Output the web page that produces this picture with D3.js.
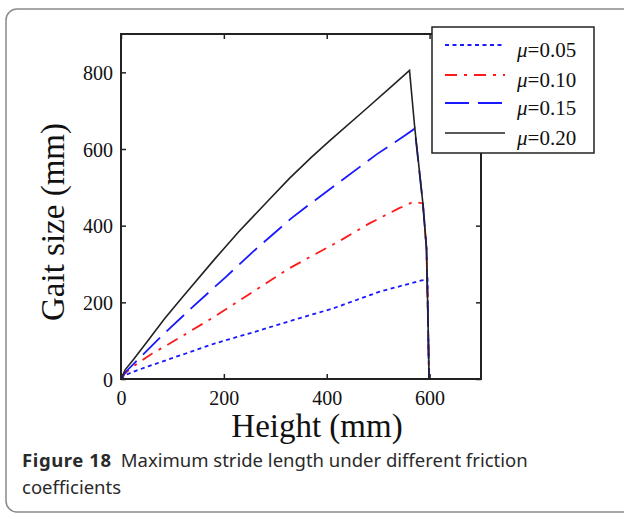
<!DOCTYPE html>
<html>
<head>
<meta charset="utf-8">
<script src="https://cdn.jsdelivr.net/npm/d3@7"></script>
<style>
  body { margin: 0; background: #fff; }
  svg { display: block; }
</style>
</head>
<body>
<svg width="624" height="514"></svg>
<script>
// series values: [height mm, gait size mm]
var mu005 = [[0,0],[8,10],[30,22],[53,33],[118,63],[183,93],[260,123],[333,153],[412,184],[503,228],[587,258],[596,262],[597,150],[599,0]];
var mu010 = [[0,0],[8,15],[27,36],[60,66],[98,95],[176,158],[247,219],[325,287],[367,318],[425,360],[483,406],[540,445],[568,462],[587,458],[594,341],[597,150],[599,0]];
var mu015 = [[0,0],[8,17],[37,56],[79,112],[140,189],[202,264],[260,336],[331,419],[354,443],[425,514],[497,586],[552,635],[571,653],[587,458],[594,341],[597,150],[599,0]];
var mu020 = [[0,0],[8,24],[25,52],[50,96],[85,158],[121,216],[183,314],[228,383],[286,465],[328,524],[370,578],[406,622],[477,705],[530,768],[561,805],[571,658],[587,458],[594,341],[597,150],[599,0]];

var seriesNames = ['0.05', '0.10', '0.15', '0.20'];
var seriesData = [mu005, mu010, mu015, mu020];
var seriesColors = ['#1a1aff', '#ff1a1a', '#1a1aff', '#222'];
var seriesDash = ['4,3.5', '12,7,3,7', '24,9', null];

var xTicks = [0, 200, 400, 600];
var yTicks = [0, 200, 400, 600, 800];

var svg = d3.select('svg');

// card frame
svg.append('rect')
    .attr('x', 6).attr('y', 9)
    .attr('width', 660).attr('height', 503)
    .attr('rx', 11)
    .attr('fill', 'none')
    .attr('stroke', '#8a8a8a')
    .attr('stroke-width', 1.5);

var x = d3.scaleLinear().domain([0, 700]).range([121, 481]);
var y = d3.scaleLinear().domain([0, 900]).range([379, 34]);

var line = d3.line()
    .x(function(d) { return x(d[0]); })
    .y(function(d) { return y(d[1]); });

// data lines
svg.selectAll('.series')
    .data(seriesData)
    .enter()
    .append('path')
    .attr('class', 'series')
    .attr('d', line)
    .attr('fill', 'none')
    .attr('stroke', function(d, i) { return seriesColors[i]; })
    .attr('stroke-width', function(d, i) { return i == 3 ? 1.6 : 1.8; })
    .attr('stroke-dasharray', function(d, i) { return seriesDash[i]; });

// axes, ticks pointing inward
var tickFont = '"Liberation Serif", "Times New Roman", serif';

var xAxis = svg.append('g')
    .attr('transform', 'translate(0,379)')
    .call(d3.axisBottom(x).tickValues(xTicks).tickSizeInner(-5).tickSizeOuter(0).tickPadding(12));
var yAxis = svg.append('g')
    .attr('transform', 'translate(121,0)')
    .call(d3.axisLeft(y).tickValues(yTicks).tickSizeInner(-5).tickSizeOuter(0).tickPadding(8));
var xTop = svg.append('g')
    .attr('transform', 'translate(0,34)')
    .call(d3.axisTop(x).tickValues(xTicks).tickSizeInner(-5).tickSizeOuter(0).tickFormat(''));
var yRight = svg.append('g')
    .attr('transform', 'translate(481,0)')
    .call(d3.axisRight(y).tickValues(yTicks).tickSizeInner(-5).tickSizeOuter(0).tickFormat(''));

[xAxis, yAxis, xTop, yRight].forEach(function(g) {
    g.select('.domain').remove();
    g.selectAll('line').attr('stroke', '#222').attr('stroke-width', 1.5);
    g.selectAll('text')
        .attr('fill', '#111')
        .style('font-family', tickFont)
        .style('font-size', '20px');
});
yAxis.selectAll('text').attr('dy', '0.36em');

// plot box
svg.append('rect')
    .attr('x', x(0)).attr('y', y(900))
    .attr('width', x(700) - x(0))
    .attr('height', y(0) - y(900))
    .attr('fill', 'none')
    .attr('stroke', '#222')
    .attr('stroke-width', 2);

// axis titles
svg.append('text')
    .attr('x', 317).attr('y', 437)
    .attr('text-anchor', 'middle')
    .style('font-family', tickFont)
    .style('font-size', '33px')
    .attr('fill', '#111')
    .text('Height (mm)');

svg.append('text')
    .attr('transform', 'translate(64,222) rotate(-90)')
    .attr('text-anchor', 'middle')
    .style('font-family', tickFont)
    .style('font-size', '33px')
    .attr('fill', '#111')
    .text('Gait size (mm)');

// legend
var legend = svg.append('g');
legend.append('rect')
    .attr('x', 432).attr('y', 27)
    .attr('width', 162).attr('height', 126)
    .attr('fill', '#fff')
    .attr('stroke', '#222')
    .attr('stroke-width', 1.5);

var rowY = [45, 75, 103, 133];
var item = legend.selectAll('.item')
    .data(seriesNames)
    .enter()
    .append('g')
    .attr('class', 'item')
    .attr('transform', function(d, i) { return 'translate(0,' + rowY[i] + ')'; });

item.append('line')
    .attr('x1', 445).attr('x2', 505)
    .attr('stroke', function(d, i) { return seriesColors[i]; })
    .attr('stroke-width', function(d, i) { return i == 3 ? 1.6 : 1.8; })
    .attr('stroke-dasharray', function(d, i) { return seriesDash[i]; });

var label = item.append('text')
    .attr('x', 517).attr('y', 11.5)
    .style('font-family', tickFont)
    .style('font-size', '21px')
    .attr('fill', '#111');
label.append('tspan').style('font-style', 'italic').text('\u03bc');
label.append('tspan').text(function(d) { return '=' + d; });

// caption
var capFont = '"Noto Sans", "Open Sans", sans-serif';
var cap = svg.append('text')
    .attr('x', 22).attr('y', 467)
    .style('font-family', capFont)
    .style('font-size', '18.5px')
    .attr('fill', '#2a2a2a');
cap.append('tspan').style('font-weight', 'bold').style('letter-spacing', '0.6px').text('Figure 18');
cap.append('tspan').attr('dx', 9).text('Maximum stride length under different friction');

svg.append('text')
    .attr('x', 22).attr('y', 494)
    .style('font-family', capFont)
    .style('font-size', '18.5px')
    .attr('fill', '#2a2a2a')
    .text('coefficients');
</script>
</body>
</html>
